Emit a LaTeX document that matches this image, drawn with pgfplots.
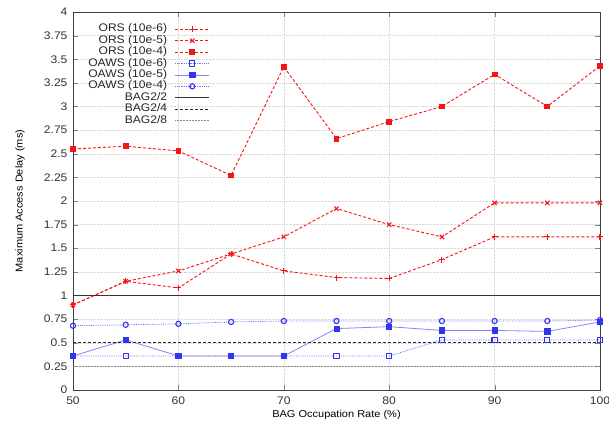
\documentclass[border=0pt]{standalone}
\usepackage{pgfplots}
\pgfplotsset{compat=1.18}
\usepackage{fontspec}
\setmainfont{Liberation Sans}[FakeStretch=1.1]
\definecolor{orsred}{rgb}{0.97,0.08,0.08}
\definecolor{oawsblue}{rgb}{0.2,0.2,0.95}
\begin{document}
\begin{tikzpicture}
\begin{axis}[
  name=ax,
  scale only axis,
  width=527pt, height=378pt,
  xmin=50, xmax=100, ymin=0, ymax=4,
  xtick={50,60,...,100},
  ytick={0,0.25,...,4},
  yticklabels={0,0.25,0.5,0.75,1,1.25,1.5,1.75,2,2.25,2.5,2.75,3,3.25,3.5,3.75,4},
  /pgf/number format/assume math mode=true,
  tick label style={font=\fontsize{11}{13}\selectfont, color=black!80},
  yticklabel style={xshift=-2pt},
  xticklabel style={yshift=-3pt},
  tick align=inside,
  major tick length=5pt,
  xtick pos=both, ytick pos=both,
  grid=major,
  major grid style={gray!30, densely dotted},
  axis line style={black!75, line width=0.9pt},
  xlabel={BAG Occupation Rate (\%)},
  ylabel={Maximum Access Delay (ms)},
  label style={font=\fontsize{10.5}{12}\selectfont, color=black!85},
  every axis y label/.style={at={([xshift=-53pt]axis description cs:0,0.5)}, anchor=center, rotate=90},
  every axis x label/.style={at={([yshift=-25pt]axis description cs:0.5,0)}, anchor=center},
  legend plot pos=right,
  legend cell align=right,
  legend style={draw=none, fill=none, at={(0.022,0.975)}, anchor=north west,
    font=\fontsize{11}{11}\selectfont, text=black!85,
    nodes={inner sep=0.5pt, text height=7.8pt, text depth=2.6pt},
    row sep=0pt,
    /tikz/every odd column/.append style={column sep=7pt}},
  legend image code/.code={
    \draw[mark repeat=2, mark phase=2, #1] plot coordinates {(0cm,0cm) (0.6cm,0cm) (1.2cm,0cm)};},
]
\addplot[color=orsred, densely dashed, line width=0.9pt, mark=+, mark size=3pt, mark options={solid, line width=1.1pt, draw=orsred}] coordinates {
(50,0.90) (55,1.15) (60,1.08) (65,1.44) (70,1.26) (75,1.19) (80,1.18) (85,1.38) (90,1.62) (95,1.62) (100,1.62)};
\addlegendentry{ORS (10e-6)}
\addplot[color=orsred, densely dashed, line width=0.9pt, mark=x, mark size=3pt, mark options={solid, line width=1.1pt, draw=orsred}] coordinates {
(50,0.90) (55,1.15) (60,1.26) (65,1.44) (70,1.62) (75,1.92) (80,1.75) (85,1.62) (90,1.98) (95,1.98) (100,1.98)};
\addlegendentry{ORS (10e-5)}
\addplot[color=orsred, densely dashed, line width=0.9pt, mark=square*, mark size=2.4pt, mark options={solid, draw=orsred, fill=orsred}] coordinates {
(50,2.55) (55,2.58) (60,2.53) (65,2.27) (70,3.42) (75,2.66) (80,2.84) (85,3.00) (90,3.34) (95,3.00) (100,3.43)};
\addlegendentry{ORS (10e-4)}
\addplot[color=oawsblue!70, densely dotted, line width=0.8pt, mark=square, mark size=2.6pt, mark options={solid, line width=1.1pt, draw=oawsblue}] coordinates {
(50,0.36) (55,0.36) (60,0.36) (65,0.36) (70,0.36) (75,0.36) (80,0.36) (85,0.53) (90,0.53) (95,0.53) (100,0.53)};
\addlegendentry{OAWS (10e-6)}
\addplot[color=oawsblue!60, line width=0.8pt, mark=square*, mark size=2.6pt, mark options={solid, fill=oawsblue, draw=oawsblue}] coordinates {
(50,0.36) (55,0.53) (60,0.36) (65,0.36) (70,0.36) (75,0.65) (80,0.67) (85,0.63) (90,0.63) (95,0.62) (100,0.72)};
\addlegendentry{OAWS (10e-5)}
\addplot[color=oawsblue!70, densely dotted, line width=0.8pt, mark=o, mark size=2.6pt, mark options={solid, line width=1.1pt, draw=oawsblue}] coordinates {
(50,0.68) (55,0.69) (60,0.70) (65,0.72) (70,0.73) (75,0.73) (80,0.73) (85,0.73) (90,0.73) (95,0.73) (100,0.74)};
\addlegendentry{OAWS (10e-4)}
\addplot[color=black!80, line width=1.1pt, mark=none] coordinates {(50,1) (100,1)};
\addlegendentry{BAG2/2}
\addplot[color=black!85, densely dashed, line width=1pt, mark=none] coordinates {(50,0.5) (100,0.5)};
\addlegendentry{BAG2/4}
\addplot[color=black!45, densely dotted, line width=0.5pt, mark=none] coordinates {(50,0.25) (100,0.25)};
\addlegendentry{BAG2/8}
\end{axis}
\pgfresetboundingbox
\path ([xshift=-73pt,yshift=-39pt]ax.south west) rectangle ([xshift=9pt,yshift=12pt]ax.north east);
\end{tikzpicture}
\end{document}
